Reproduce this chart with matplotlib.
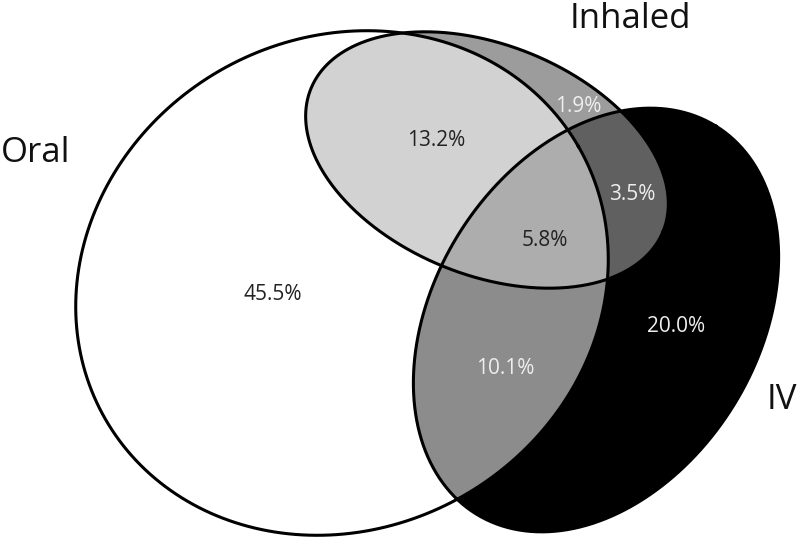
import numpy as np
import matplotlib
matplotlib.use("Agg")
import matplotlib.pyplot as plt

plt.rcParams['font.family'] = ['Open Sans', 'DejaVu Sans']

# set names and region percentages
sets = ["Oral", "Inhaled", "IV"]
region_keys = ["O", "OI", "I", "OIV", "IIV", "V", "OV"]
region_pcts = [45.5, 13.2, 1.9, 5.8, 3.5, 20.0, 10.1]


def ellipse_pts(cx, cy, a, b, ang, n=720):
    t = np.linspace(0, 2 * np.pi, n, endpoint=False)
    r = np.radians(ang)
    x = a * np.cos(t)
    y = b * np.sin(t)
    return np.column_stack([cx + x * np.cos(r) - y * np.sin(r),
                            cy + x * np.sin(r) + y * np.cos(r)])


def clip(subject, clipper):
    # Sutherland-Hodgman, both convex, clipper counter-clockwise
    def inside(p, a, b):
        return (b[0] - a[0]) * (p[1] - a[1]) - (b[1] - a[1]) * (p[0] - a[0]) >= 0

    def cross(p1, p2, a, b):
        d1 = p2 - p1
        d2 = b - a
        den = d1[0] * d2[1] - d1[1] * d2[0]
        t = ((a[0] - p1[0]) * d2[1] - (a[1] - p1[1]) * d2[0]) / den
        return p1 + t * d1

    out = list(subject)
    for i in range(len(clipper)):
        a, b = clipper[i - 1], clipper[i]
        inp = out
        out = []
        if not inp:
            break
        s = inp[-1]
        for e in inp:
            if inside(e, a, b):
                if not inside(s, a, b):
                    out.append(cross(s, e, a, b))
                out.append(e)
            elif inside(s, a, b):
                out.append(cross(s, e, a, b))
            s = e
    return np.array(out)


# image-style coords (y down)
oral = ellipse_pts(342, 283, 273, 245, -30)
inh = ellipse_pts(487, 160, 190, 115, 22)
iv = ellipse_pts(596, 320, 228, 162, -58.3)

fig = plt.figure(figsize=(8, 5.38), dpi=100)
ax = fig.add_axes([0, 0, 1, 1])
ax.set_xlim(0, 800)
ax.set_ylim(538, 0)
ax.axis('off')

fills = [
    (oral, "#ffffff"),
    (inh, "#9c9c9c"),
    (iv, "#000000"),
    (clip(inh, oral), "#d2d2d2"),
    (clip(iv, oral), "#8c8c8c"),
    (clip(inh, iv), "#606060"),
    (clip(clip(inh, oral), iv), "#adadad"),
]
for pts, c in fills:
    ax.fill(pts[:, 0], pts[:, 1], color=c, lw=0)

for pts in (oral, inh, iv):
    closed = np.vstack([pts, pts[:1]])
    ax.plot(closed[:, 0], closed[:, 1], color="black", lw=2.2)

label_pos = {"O": (273, 294), "OI": (436, 141), "I": (578, 106), "OIV": (545, 240),
             "IIV": (632, 194), "V": (676, 327), "OV": (505, 368)}
light_text = {"I", "IIV", "V", "OV"}
for key, pct in zip(region_keys, region_pcts):
    x, y = label_pos[key]
    ax.text(x, y, f"{pct:.1f}%", ha="center", va="center", fontsize=15,
            color="#eeeeee" if key in light_text else "#222222")

set_pos = [(1, 153, "left"), (630, 19, "center"), (797, 400, "right")]
for name, (x, y, ha) in zip(sets, set_pos):
    ax.text(x, y, name, ha=ha, va="center", fontsize=25, color="#111111")

fig.savefig("out.png", dpi=100)
